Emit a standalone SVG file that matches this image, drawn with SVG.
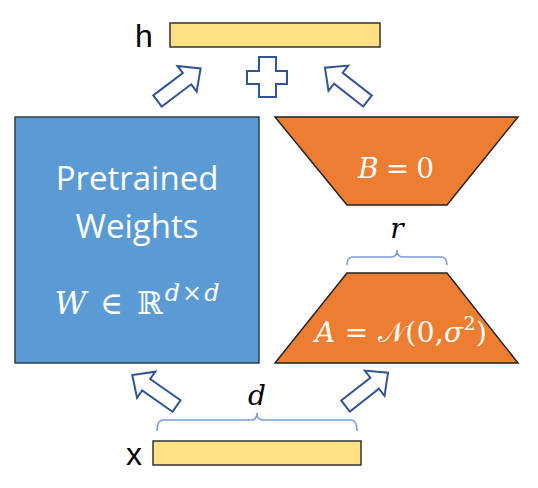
<svg xmlns="http://www.w3.org/2000/svg" width="538" height="488" viewBox="0 0 538 488">
<defs>
<style>
.bar{fill:#FFE085;stroke:#333;stroke-width:1.5}
.lbl{font-family:"Liberation Sans",Arial,sans-serif;font-size:32px;fill:#000}
.blk{fill:#fff;stroke:#2F5597;stroke-width:2;stroke-linejoin:miter}
.brace{fill:none;stroke:#7E9ED6;stroke-width:1.6}
.wt{font-family:"Open Sans","Liberation Sans",sans-serif;font-size:33px;fill:#fff;text-anchor:middle}
.math{font-family:"DejaVu Serif","Liberation Serif",serif;fill:#fff;text-anchor:middle}
.mathk{font-family:"DejaVu Serif","Liberation Serif",serif;fill:#000;text-anchor:middle;font-style:italic}
.trap{fill:#ED7D31;stroke:#222;stroke-width:1.5}
</style>
<polygon id="barrow" points="0,-7 37,-7 37,-16 54,0 37,16 37,7 0,7"/>
</defs>
<g id="h">
<rect class="bar" x="170" y="23" width="210" height="24"/>
<text class="lbl" x="135" y="47">h</text>
</g>
<g id="x">
<rect class="bar" x="153" y="441" width="208" height="24"/>
<text class="lbl" x="126" y="465">x</text>
</g>
<g id="W">
<rect x="15" y="117" width="244" height="246" fill="#5B9BD5" stroke="#2B3D52" stroke-width="1.5"/>
<text class="wt" x="137" y="190">Pretrained</text>
<text class="wt" x="137" y="238">Weights</text>
<text class="math" x="137" y="314" font-size="31" textLength="165"><tspan font-style="italic">W</tspan> ∈ ℝ<tspan font-style="italic" font-size="24" dy="-13">d</tspan><tspan font-size="24">×</tspan><tspan font-style="italic" font-size="24">d</tspan></text>
</g>
<g id="B">
<polygon class="trap" points="275,117 518,117 447,205 347,205"/>
<text class="math" x="396" y="178" font-size="28" textLength="76"><tspan font-style="italic">B</tspan> = 0</text>
</g>
<g id="A">
<polygon class="trap" points="347,273 447,273 518,363 275,363"/>
<text class="math" x="401" y="342" font-size="28" textLength="172"><tspan font-style="italic">A</tspan> = 𝒩(0,<tspan font-style="italic">σ</tspan><tspan font-size="19" dy="-12">2</tspan><tspan dy="12">)</tspan></text>
</g>
<g id="plus">
<polygon class="blk" points="259,57 276,57 276,71 287,71 287,84 276,84 276,97 259,97 259,84 247,84 247,71 259,71"/>
</g>
<g id="connectors">
<use href="#barrow" class="blk" transform="translate(157.5,101) rotate(-37)"/>
<use href="#barrow" class="blk" transform="translate(367.5,101) rotate(-142)"/>
<use href="#barrow" class="blk" transform="translate(176.5,406) rotate(-145)"/>
<use href="#barrow" class="blk" transform="translate(345.5,406) rotate(-38)"/>
</g>
<g id="braces">
<path class="brace" d="M157,431 Q157,420 163,420 H251 Q257,420 257,413 Q257,420 263,420 H351 Q357,420 357,431"/>
<text class="mathk" x="257" y="405" font-size="28">d</text>
<path class="brace" d="M347,265 Q347,257 353,257 H391 Q397,257 397,250 Q397,257 403,257 H441 Q447,257 447,265"/>
<text class="mathk" x="397" y="238" font-size="28">r</text>
</g>
</svg>
